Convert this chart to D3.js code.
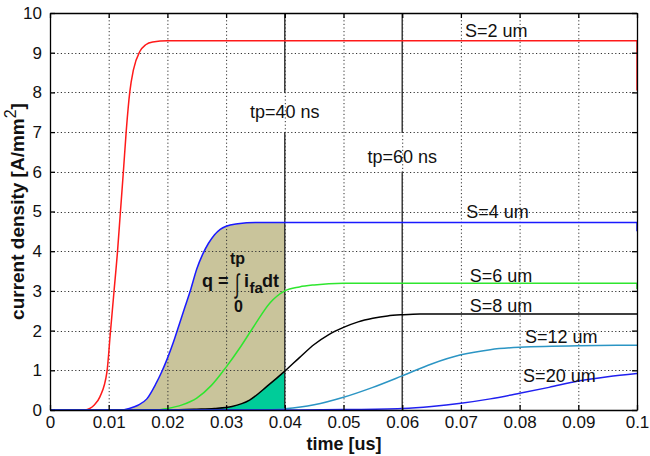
<!DOCTYPE html>
<html><head><meta charset="utf-8">
<script src="https://cdn.jsdelivr.net/npm/d3@7"></script>
<style>body{margin:0;background:#fff}svg{display:block}text{font-family:Arial,"Liberation Sans",sans-serif}</style>
</head><body><svg id="c" width="650" height="456"></svg>
<script>
const xTicks = [0,0.01,0.02,0.03,0.04,0.05,0.06,0.07,0.08,0.09,0.1];
const xTickLabels = ["0","0.01","0.02","0.03","0.04","0.05","0.06","0.07","0.08","0.09","0.1"];
const yTicks = [0,1,2,3,4,5,6,7,8,9,10];
const yTickLabels = ["0","1","2","3","4","5","6","7","8","9","10"];

const s2 = [[0,0],[0.006,0],[0.0068,0.04],[0.0075,0.12],[0.0085,0.33],[0.0097,0.96],[0.0103,1.97],[0.0109,2.98],[0.0115,3.99],[0.0120,5.0],[0.0125,6.0],[0.0130,7.05],[0.0136,8.02],[0.0142,8.56],[0.0153,9.03],[0.0163,9.2],[0.0175,9.27],[0.020,9.3],[0.1,9.3]];
const s4 = [[0,0],[0.012,0],[0.0135,0.04],[0.015,0.12],[0.0165,0.28],[0.018,0.65],[0.019,0.95],[0.020,1.3],[0.021,1.7],[0.022,2.15],[0.023,2.6],[0.024,3.05],[0.025,3.55],[0.026,3.92],[0.027,4.2],[0.028,4.41],[0.029,4.55],[0.030,4.63],[0.032,4.69],[0.035,4.72],[0.1,4.72]];
const s6 = [[0,0],[0.018,0],[0.020,0.04],[0.0225,0.13],[0.025,0.3],[0.0275,0.62],[0.030,1.08],[0.0325,1.6],[0.035,2.17],[0.0375,2.7],[0.040,3.0],[0.0425,3.1],[0.045,3.15],[0.050,3.19],[0.1,3.19]];
const s8 = [[0,0],[0.02,0],[0.025,0.02],[0.028,0.04],[0.031,0.09],[0.034,0.25],[0.037,0.6],[0.040,0.98],[0.0425,1.32],[0.045,1.65],[0.0475,1.9],[0.050,2.08],[0.0525,2.22],[0.055,2.31],[0.0575,2.37],[0.060,2.4],[0.063,2.42],[0.1,2.42]];
const s12 = [[0,0],[0.036,0],[0.040,0.03],[0.045,0.13],[0.050,0.32],[0.055,0.57],[0.060,0.86],[0.065,1.16],[0.070,1.39],[0.075,1.52],[0.080,1.58],[0.090,1.62],[0.1,1.63]];
const s20 = [[0,0],[0.04,0],[0.05,0.01],[0.06,0.04],[0.065,0.09],[0.07,0.17],[0.075,0.28],[0.08,0.42],[0.085,0.57],[0.09,0.73],[0.095,0.84],[0.1,0.92]];

const seriesNames = ["S=2 um","S=4 um","S=6 um","S=8 um","S=12 um","S=20 um"];
const seriesData = [s2,s4,s6,s8,s12,s20];
const seriesColors = ["#ff1a1a","#1a1aff","#2ee62e","#000000","#2b95c4","#2020f0"];
const endDrops = [8.05,4.5,3.05,null,null,null];
const labelPos = [[0.0707,9.4],[0.0709,4.84],[0.0715,3.23],[0.0715,2.48],[0.0809,1.7],[0.0806,0.71]];

const markerTimes = [0.04,0.06];
const markerLabels = ["tp=40 ns","tp=60 ns"];
const markerGaps = [[7.0,8.0],[6.0,6.98]];
const markerLabelY = [7.35,6.22];

const W=650,H=456, L=50,R=637,T=13,B=410;
const svg = d3.select("#c");
const x = d3.scaleLinear().domain([0,0.1]).range([L,R]);
const y = d3.scaleLinear().domain([0,10]).range([B,T]);
const line = d3.line().x(d=>x(d[0])).y(d=>y(d[1])).curve(d3.curveMonotoneX);

// fills under S=4 and S=8 up to tp=40 ns
const tp = 0.04;
function clipTo(data, t){ const pts=[]; for(let i=0;i<data.length;i++){ if(data[i][0]<=t) pts.push(data[i]); else { const a=data[i-1], b=data[i]; const f=(t-a[0])/(b[0]-a[0]); pts.push([t,a[1]+f*(b[1]-a[1])]); break; } } return pts; }
const area = d3.area().x(d=>x(d[0])).y0(y(0)).y1(d=>y(d[1])).curve(d3.curveMonotoneX);
svg.append("path").attr("d", area(clipTo(s4,tp))).attr("fill","#c9c49b");
svg.append("path").attr("d", area(clipTo(s8,tp))).attr("fill","#00cc99");

// solid marker lines
markerTimes.forEach((t,i)=>{
  const g = markerGaps[i];
  svg.append("line").attr("x1",x(t)).attr("x2",x(t)).attr("y1",y(10)).attr("y2",y(g[1])).attr("stroke","#222").attr("stroke-width",1.3);
  svg.append("line").attr("x1",x(t)).attr("x2",x(t)).attr("y1",y(g[0])).attr("y2",y(0)).attr("stroke","#222").attr("stroke-width",1.3);
});

// grid
const grid = svg.append("g").attr("stroke","#333").attr("stroke-width",1).attr("stroke-dasharray","1.2,2.4");
xTicks.slice(1,-1).forEach(t=>grid.append("line").attr("x1",x(t)+0.5).attr("x2",x(t)+0.5).attr("y1",T).attr("y2",B));
yTicks.slice(1,-1).forEach(v=>grid.append("line").attr("y1",Math.round(y(v))+0.5).attr("y2",Math.round(y(v))+0.5).attr("x1",L).attr("x2",R));

// curves
seriesData.forEach((d,i)=>{
  svg.append("path").attr("d",line(d)).attr("fill","none").attr("stroke",seriesColors[i]).attr("stroke-width",1.5);
  if(endDrops[i]!==null){
    const last=d[d.length-1];
    svg.append("line").attr("x1",x(last[0])).attr("x2",x(last[0])).attr("y1",y(last[1])).attr("y2",y(endDrops[i])).attr("stroke",seriesColors[i]).attr("stroke-width",1.8).attr("opacity",0.8);
  }
});

// frame and ticks
const ax = svg.append("g");
ax.append("g").attr("transform",`translate(0,${B})`).call(d3.axisBottom(x).tickValues(xTicks).tickSizeInner(-5).tickSizeOuter(0).tickPadding(6).tickFormat((d,i)=>xTickLabels[i]));
ax.append("g").attr("transform",`translate(0,${T})`).call(d3.axisTop(x).tickValues(xTicks).tickSizeInner(-5).tickSizeOuter(0).tickFormat(""));
ax.append("g").attr("transform",`translate(${L},0)`).call(d3.axisLeft(y).tickValues(yTicks).tickSizeInner(-5).tickSizeOuter(0).tickPadding(8).tickFormat((d,i)=>yTickLabels[i]));
ax.append("g").attr("transform",`translate(${R},0)`).call(d3.axisRight(y).tickValues(yTicks).tickSizeInner(-5).tickSizeOuter(0).tickFormat(""));
ax.selectAll(".domain").attr("stroke","#000").attr("stroke-width",1.3);
ax.selectAll(".tick line").attr("stroke","#000").attr("stroke-width",1.3);
ax.selectAll(".tick text").attr("font-size",17).attr("fill","#111").attr("font-family","Arial, 'Liberation Sans', sans-serif");

// axis labels
svg.append("text").attr("x",344).attr("y",450).attr("text-anchor","middle").attr("font-size",18).attr("font-weight","bold").attr("fill","#111").text("time [us]");
const yl = svg.append("text").attr("transform",`translate(24,${(T+B)/2}) rotate(-90)`).attr("text-anchor","middle").attr("font-size",19).attr("font-weight","bold").attr("fill","#111");
yl.append("tspan").text("current density [A/mm");
yl.append("tspan").attr("dy",-8).attr("font-size",16).attr("font-weight","normal").text("2");
yl.append("tspan").attr("dy",8).text("]");

// series labels
seriesNames.forEach((n,i)=>{
  svg.append("text").attr("x",x(labelPos[i][0])).attr("y",y(labelPos[i][1])).attr("font-size",18).attr("fill","#111").text(n);
});

// marker labels
markerTimes.forEach((t,i)=>{
  svg.append("text").attr("x",x(t)).attr("y",y(markerLabelY[i])).attr("text-anchor","middle").attr("font-size",18).attr("fill","#111").text(markerLabels[i]);
});

// formula
const fg = svg.append("g").attr("font-weight","bold").attr("fill","#111").attr("font-size",18);
fg.append("text").attr("x",230).attr("y",264).attr("font-size",16).text("tp");
fg.append("text").attr("x",202).attr("y",287).text("q =");
fg.append("text").attr("transform","translate(235,293) scale(0.9,1.5)").attr("font-size",18).attr("font-weight","normal").text("\u222B");
fg.append("text").attr("x",244).attr("y",287).text("i");
fg.append("text").attr("x",249.5).attr("y",293).attr("font-size",15).text("fa");
fg.append("text").attr("x",262).attr("y",287).text("dt");
fg.append("text").attr("x",234).attr("y",312).attr("font-size",16).text("0");
</script></body></html>
